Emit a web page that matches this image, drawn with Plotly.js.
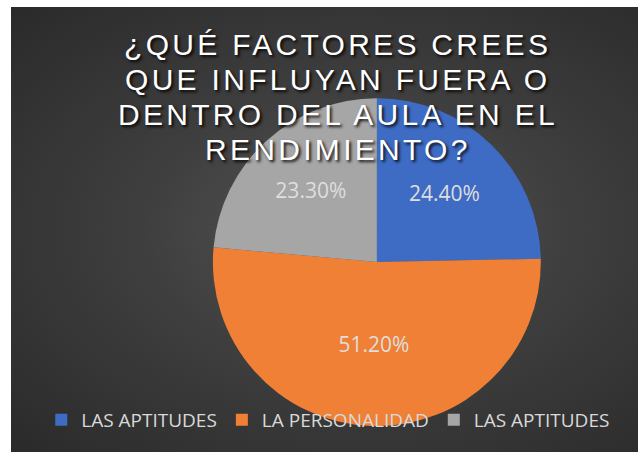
<!DOCTYPE html>
<html>
<head>
<meta charset="utf-8">
<script src="https://cdn.plot.ly/plotly-3.0.1.min.js"></script>
<style>
body{margin:0;background:#fff;}
#chartBox{position:absolute;left:11px;top:7px;width:627px;height:445px;
  background:radial-gradient(ellipse at 55% 50%, #555555 0%, #3e3e3e 45%, #2a2a2a 100%);}
#chartContainer{position:absolute;left:0;top:0;width:627px;height:445px;}
.annotation-text{letter-spacing:3.3px;}
</style>
</head>
<body>
<div id="chartBox"><div id="chartContainer"></div></div>
<script>
// chart data
var factor_labels=['LAS APTITUDES','LA PERSONALIDAD','LAS APTITUDES '];
var factor_values=[24.4,51.2,23.3];
var factor_text=['24.40%','51.20%','23.30%'];
var slice_colors=['#3e6cc5','#ef8035','#a6a6a6'];
var title_lines=['¿QUÉ FACTORES CREES','QUE INFLUYAN FUERA O','DENTRO DEL AULA EN EL','RENDIMIENTO?'];

var pie_trace={
    type:'pie',
    labels:factor_labels,
    values:factor_values,
    text:factor_text,
    textinfo:'text',
    textposition:'inside',
    insidetextorientation:'horizontal',
    sort:false,
    direction:'clockwise',
    rotation:0,
    marker:{colors:slice_colors,line:{width:0}},
    textfont:{family:'Open Sans, Liberation Sans',size:21,color:'#dedede'},
    domain:{x:[0.322,0.845],y:[0.058,0.7955]},
    hoverinfo:'none'
};

// title as one annotation per line (tighter line pitch than plotly's title)
var title_annotations=[];
for (var i in title_lines){
    title_annotations.push({
        text:title_lines[i],
        xref:'paper',yref:'paper',
        x:0.5215,xanchor:'center',
        y:1-(37+35*i)/445,yanchor:'middle',
        showarrow:false,
        font:{family:'Liberation Sans, Arial',size:30,color:'#ffffff',shadow:'2px 2px 3px rgba(0,0,0,0.9)'}
    });
}

var layout1={
    width:627,height:445,
    margin:{l:0,r:0,t:0,b:0},
    paper_bgcolor:'rgba(0,0,0,0)',
    plot_bgcolor:'rgba(0,0,0,0)',
    showlegend:true,
    annotations:title_annotations,
    legend:{
        orientation:'h',
        x:0.51,xanchor:'center',
        y:0.072,yanchor:'middle',
        bgcolor:'rgba(0,0,0,0)',
        font:{family:'Open Sans, Liberation Sans',size:19,color:'#d9d9d9'},
        itemwidth:30,
        itemclick:false
    }
};

Plotly.newPlot('chartContainer',[pie_trace],layout1,{displayModeBar:false,staticPlot:true});
</script>
</body>
</html>
